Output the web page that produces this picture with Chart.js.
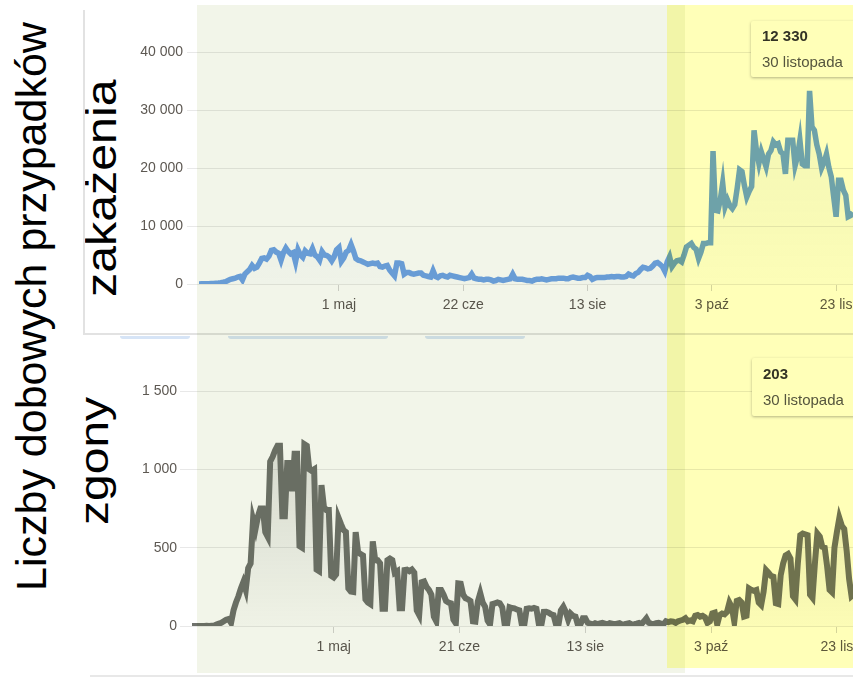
<!DOCTYPE html>
<html>
<head>
<meta charset="utf-8">
<script src="https://cdn.jsdelivr.net/npm/chart.js@4.4.0/dist/chart.umd.min.js"></script>
<style>
  html, body { margin: 0; padding: 0; }
  body { width: 853px; height: 678px; overflow: hidden; background: #fff; font-family: 'Liberation Sans', Arial, sans-serif; }
  #stage { position: absolute; left: 0; top: 0; width: 853px; height: 678px; overflow: hidden; background: #fff; isolation: isolate; }
  canvas { position: absolute; }
  .vlabel { position: absolute; white-space: nowrap; transform-origin: 0 0; line-height: 1; color: #000; }
  .line { position: absolute; background: #e2e2e2; }
  .pill { position: absolute; height: 3px; background: #d6e4f6; border-radius: 0 0 6px 6px; }
  .tip { position: absolute; width: 140px; background: #fff; border-radius: 2px; box-shadow: 0 1px 3px rgba(0,0,0,0.3);
         box-sizing: border-box; padding: 2px 11px 0; font-size: 15px; line-height: 26px; color: #555; }
  .tip b { display: block; color: #333; }
  .overlay { position: absolute; mix-blend-mode: multiply; pointer-events: none; }
</style>
</head>
<body>
<div id="stage">
  <div class="vlabel" id="big" style="font-size:43px; left:10px; top:591px; transform:rotate(-90deg);">Liczby dobowych przypadków</div>
  <div class="vlabel" id="lab1" style="font-size:42px; left:81px; top:297px; transform:rotate(-90deg) scaleX(1.15);">zakażenia</div>
  <div class="vlabel" id="lab2" style="font-size:40px; left:74px; top:525px; transform:rotate(-90deg) scaleX(1.2);">zgony</div>

  <div class="line" style="left:83px; top:10px; width:2px; height:325px;"></div>
  <div class="line" style="left:83px; top:333px; width:770px; height:2px;"></div>
  <div class="line" style="left:90px; top:675px; width:763px; height:2px; background:#e8e8e8;"></div>
  <div class="pill" style="left:120px; top:336px; width:70px;"></div>
  <div class="pill" style="left:228px; top:336px; width:160px;"></div>
  <div class="pill" style="left:425px; top:336px; width:100px;"></div>

  <canvas id="casesChart" width="800" height="334" style="left:85px; top:0px;"></canvas>
  <canvas id="deathsChart" width="805" height="336" style="left:80px; top:340px;"></canvas>

  <div class="tip" id="tip1" style="left:751px; top:21px; height:56px;"></div>
  <div class="tip" id="tip2" style="left:752px; top:358px; height:58px; padding-top:3px;"></div>

  <div class="overlay" style="left:197px; top:5px; width:488px; height:668px; background:rgb(242,245,233);"></div>
  <div class="overlay" style="left:667px; top:5px; width:186px; height:663px; background:rgb(255,255,184);"></div>
</div>

<script>
// dzienne przypadki, od 4 marca do 30 listopada
const cases = [
  20, 30, 40, 50, 50, 70, 90, 130, 160, 210,
  300, 400, 600, 800, 900, 1000, 1200, 1300, 700, 1700,
  2100, 2500, 3200, 2700, 2900, 3600, 4400, 4500, 4300, 4800,
  5800, 5900, 5500, 5300, 4100, 5400, 6200, 5600, 5200, 5400,
  3800, 5900, 5000, 4600, 5700, 5300, 5200, 6100, 5000, 4700,
  4100, 5600, 5000, 4900, 4600, 4000, 4700, 5900, 6300, 3900,
  4500, 5500, 5800, 6800, 5700, 4400, 4100, 4000, 3800, 3600,
  3400, 3500, 3600, 3500, 3600, 3000, 2900, 3100, 3200, 2400,
  1900, 1400, 3600, 3600, 3500, 1700, 2000, 2000, 1800, 1700,
  1800, 1900, 1900, 1500, 1400, 1300, 1200, 2300, 1300, 1100,
  1400, 1500, 1300, 1200, 1500, 1400, 1300, 1200, 1100, 1000,
  900, 1000, 1100, 1700, 1000, 900, 800, 800, 700, 800,
  800, 700, 500, 600, 800, 700, 600, 700, 800, 900,
  1700, 900, 800, 800, 800, 700, 600, 600, 500, 700,
  800, 800, 900, 800, 700, 800, 900, 900, 900, 1000,
  1000, 1000, 900, 900, 1100, 1200, 1100, 1000, 1000, 1100,
  1100, 1500, 1300, 800, 1000, 1100, 1100, 1100, 1100, 1200,
  1200, 1300, 1200, 1300, 1300, 1200, 1200, 1300, 1700, 1500,
  1400, 1800, 2000, 2500, 2900, 2800, 2600, 2700, 3100, 3600,
  3700, 3400, 3000, 2200, 3800, 4700, 3000, 3600, 4000, 4100,
  3800, 5000, 6400, 6700, 7000, 6300, 6000, 4400, 5500, 7000,
  7000, 7100, 7100, 22900, 12700, 12600, 14500, 17400, 13300, 14500,
  13500, 13000, 13700, 16500, 19700, 19400, 17000, 15000, 16000, 16800,
  26500, 23000, 20800, 22800, 21500, 20200, 22400, 23000, 24500, 24000,
  24200, 22800, 22400, 19000, 24800, 24800, 24800, 20400, 22000, 24800,
  20700, 20400, 20400, 33300, 27100, 26500, 24000, 22400, 20000, 21000,
  22400, 20100, 18500, 15000, 11600, 17900, 17900, 16200, 15300, 11600,
  11800, 12330
];

// dzienne zgony, ten sam okres
const deaths = [
  0, 0, 0, 0, 0, 0, 1, 0, 1, 2,
  10, 15, 20, 30, 40, 45, 20, 100, 150, 190,
  240, 280, 230, 370, 400, 680, 620, 700, 750, 750,
  600, 570, 1050, 1080, 1120, 1150, 1150, 700, 700, 1040,
  1040, 860, 1100, 1100, 510, 500, 1160, 1150, 1000, 990,
  1000, 360, 350, 900, 760, 740, 740, 320, 310, 330,
  690, 650, 613, 600, 240, 220, 217, 600, 470, 460,
  450, 170, 150, 140, 540, 420, 420, 400, 110, 110,
  420, 430, 420, 340, 350, 113, 113, 357, 360, 350,
  360, 340, 100, 70, 280, 285, 250, 230, 200, 60,
  30, 230, 230, 200, 160, 150, 145, 40, 17, 272,
  270, 200, 177, 170, 160, 30, 28, 155, 210, 150,
  123, 34, 10, 140, 145, 150, 145, 120, 10, 10,
  120, 115, 113, 105, 100, 10, 5, 110, 113, 110,
  115, 110, 10, 5, 90, 91, 85, 75, 70, 10,
  5, 100, 123, 90, 40, 80, 65, 60, 6, 10,
  49, 49, 20, 15, 10, 18, 12, 16, 20, 15,
  10, 18, 15, 12, 15, 18, 10, 12, 15, 18,
  10, 12, 15, 20, 12, 30, 49, 20, 15, 12,
  18, 20, 15, 12, 30, 25, 30, 28, 20, 30,
  35, 40, 50, 30, 35, 30, 65, 70, 60, 65,
  55, 20, 30, 80, 85, 10, 70, 80, 75, 90,
  150, 120, 28, 160, 166, 150, 60, 65, 240, 230,
  225, 230, 150, 134, 220, 357, 340, 320, 315, 145,
  140, 325, 400, 450, 460, 430, 190, 170, 400, 580,
  590, 585, 580, 200, 180, 400, 590, 570, 506, 500,
  380, 230, 215, 500, 600, 690, 640, 620, 480, 300,
  190, 203
];

const tickDays = [58, 109.5, 161, 212.5, 264];
const casesTickLabels = ['1 maj', '22 cze', '13 sie', '3 paź', '23 lis'];
const deathsTickLabels = ['1 maj', '21 cze', '13 sie', '3 paź', '23 lis'];
const lastDay = '30 listopada';

Chart.defaults.font.family = "'Liberation Sans', Arial, sans-serif";
Chart.defaults.font.size = 14;
Chart.defaults.color = '#5d5852';

const fmt = v => String(v).replace(/\B(?=(\d{3})+(?!\d))/g, ' ');

const fade = (rgb, a0, a1) => ctx => {
  const area = ctx.chart.chartArea;
  if (!area) return 'transparent';
  const g = ctx.chart.ctx.createLinearGradient(0, area.top, 0, area.bottom);
  g.addColorStop(0, `rgba(${rgb},${a0})`);
  g.addColorStop(1, `rgba(${rgb},${a1})`);
  return g;
};

const makeChart = (id, values, opts) => new Chart(document.getElementById(id), {
  type: 'line',
  data: {
    datasets: [{
      data: values.map((v, i) => ({ x: i, y: v })),
      borderColor: opts.color,
      borderWidth: opts.width,
      backgroundColor: fade(opts.fill, opts.a0, 0.02),
      fill: 'origin',
      pointRadius: 0,
      tension: 0
    }]
  },
  options: {
    responsive: false,
    animation: false,
    devicePixelRatio: 1,
    layout: { padding: { top: opts.padTop, right: opts.padRight, left: 0, bottom: 0 } },
    plugins: { legend: { display: false }, tooltip: { enabled: false } },
    scales: {
      x: {
        type: 'linear',
        min: 0,
        max: values.length - 1,
        afterFit: s => { s.height = 50; },
        afterBuildTicks: s => { s.ticks = tickDays.map(v => ({ value: v })); },
        grid: { drawOnChartArea: false, drawTicks: true, tickLength: 7, color: '#d4d4d4' },
        border: { display: false },
        ticks: { autoSkip: false, maxRotation: 0, padding: 6, callback: (v, i) => opts.labels[i] }
      },
      y: {
        min: 0,
        max: opts.yMax,
        afterFit: s => { s.width = opts.yWidth; },
        grid: { color: '#e8e8e8', tickLength: 12 },
        border: { display: false },
        ticks: { stepSize: opts.yStep, padding: opts.yPad, callback: v => fmt(v) }
      }
    }
  }
});

makeChart('casesChart', cases, {
  color: '#6ea2ea', fill: '106,150,210', a0: 0.10, width: 5.5,
  yMax: 40000, yStep: 10000, yWidth: 114, yPad: 4,
  padTop: 52, padRight: 32, labels: casesTickLabels
});

makeChart('deathsChart', deaths, {
  color: '#6f726c', fill: '105,110,100', a0: 0.24, width: 6,
  yMax: 1500, yStep: 500, yWidth: 112, yPad: 3,
  padTop: 51, padRight: 31, labels: deathsTickLabels
});

document.getElementById('tip1').innerHTML = '<b>' + fmt(cases[cases.length - 1]) + '</b>' + lastDay;
document.getElementById('tip2').innerHTML = '<b>' + fmt(deaths[deaths.length - 1]) + '</b>' + lastDay;
</script>
</body>
</html>
